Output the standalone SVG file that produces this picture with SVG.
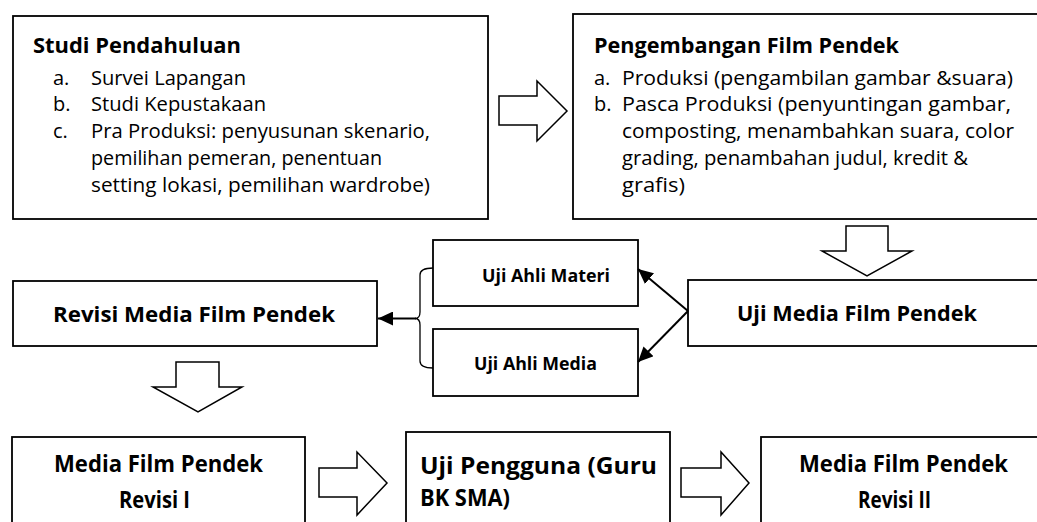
<svg xmlns="http://www.w3.org/2000/svg" width="1037" height="522" viewBox="0 0 1037 522">
  <style>
    .box { fill: #ffffff; stroke: #000000; stroke-width: 1.8; }
    .blk { fill: #ffffff; stroke: #000000; stroke-width: 1.5; stroke-linejoin: miter; }
    .t { font-family: "Open Sans", "Noto Sans", "Liberation Sans", sans-serif; fill: #000000; }
    .b { font-weight: bold; }
    .r { font-size: 20px; font-weight: normal; }
    .h { font-size: 21px; }
    .s { font-size: 17.5px; }
    .big { font-size: 23px; }
    .con { fill: none; stroke: #000000; stroke-width: 2; }
    .brace { fill: none; stroke: #000000; stroke-width: 1.3; }
  </style>
  <defs>
    <marker id="ah" markerUnits="userSpaceOnUse" markerWidth="16" markerHeight="14" refX="15" refY="7" orient="auto">
      <path d="M0,0 L15,7 L0,14 z" fill="#000000"/>
    </marker>
  </defs>
  <rect width="1037" height="522" fill="#ffffff"/>

  <g id="studi-pendahuluan">
    <rect class="box" x="13" y="16" width="475" height="203"/>
    <text class="t b h" x="33" y="53" textLength="208" lengthAdjust="spacingAndGlyphs">Studi Pendahuluan</text>
    <text class="t r" x="53" y="84.5">a.</text>
    <text class="t r" x="91" y="84.5" textLength="155" lengthAdjust="spacingAndGlyphs">Survei Lapangan</text>
    <text class="t r" x="53" y="111">b.</text>
    <text class="t r" x="91" y="111" textLength="175" lengthAdjust="spacingAndGlyphs">Studi Kepustakaan</text>
    <text class="t r" x="53" y="138">c.</text>
    <text class="t r" x="91" y="138" textLength="339" lengthAdjust="spacingAndGlyphs">Pra Produksi: penyusunan skenario,</text>
    <text class="t r" x="91" y="165" textLength="291" lengthAdjust="spacingAndGlyphs">pemilihan pemeran, penentuan</text>
    <text class="t r" x="91" y="192" textLength="339" lengthAdjust="spacingAndGlyphs">setting lokasi, pemilihan wardrobe)</text>
  </g>

  <g id="pengembangan-film-pendek">
    <rect class="box" x="573" y="14" width="470" height="205"/>
    <text class="t b h" x="594" y="53" textLength="305" lengthAdjust="spacingAndGlyphs">Pengembangan Film Pendek</text>
    <text class="t r" x="594" y="84.5">a.</text>
    <text class="t r" x="622" y="84.5" textLength="391" lengthAdjust="spacingAndGlyphs">Produksi (pengambilan gambar &amp;suara)</text>
    <text class="t r" x="594" y="111">b.</text>
    <text class="t r" x="622" y="111" textLength="389" lengthAdjust="spacingAndGlyphs">Pasca Produksi (penyuntingan gambar,</text>
    <text class="t r" x="622" y="138" textLength="392" lengthAdjust="spacingAndGlyphs">composting, menambahkan suara, color</text>
    <text class="t r" x="622" y="165" textLength="346" lengthAdjust="spacingAndGlyphs">grading, penambahan judul, kredit &amp;</text>
    <text class="t r" x="622" y="192" textLength="63" lengthAdjust="spacingAndGlyphs">grafis)</text>
  </g>

  <g id="uji-media-film-pendek">
    <rect class="box" x="688" y="280" width="355" height="66"/>
    <text class="t b h" x="737" y="321" textLength="240" lengthAdjust="spacingAndGlyphs">Uji Media Film Pendek</text>
  </g>

  <g id="uji-ahli-materi">
    <rect class="box" x="433" y="240" width="205" height="66"/>
    <text class="t b s" x="482" y="282" textLength="128" lengthAdjust="spacingAndGlyphs">Uji Ahli Materi</text>
  </g>

  <g id="uji-ahli-media">
    <rect class="box" x="433" y="329" width="205" height="67"/>
    <text class="t b s" x="474" y="369.5" textLength="123" lengthAdjust="spacingAndGlyphs">Uji Ahli Media</text>
  </g>

  <g id="revisi-media-film-pendek">
    <rect class="box" x="13" y="281" width="364" height="65"/>
    <text class="t b h" x="53" y="322" textLength="282" lengthAdjust="spacingAndGlyphs">Revisi Media Film Pendek</text>
  </g>

  <g id="media-film-pendek-revisi-1">
    <rect class="box" x="12" y="437" width="293" height="95"/>
    <text class="t b big" x="54" y="472" textLength="209" lengthAdjust="spacingAndGlyphs">Media Film Pendek</text>
    <text class="t b big" x="119" y="508" textLength="71" lengthAdjust="spacingAndGlyphs">Revisi I</text>
  </g>

  <g id="uji-pengguna">
    <rect class="box" x="406" y="432" width="264" height="100"/>
    <text class="t b big" x="420" y="474" textLength="237" lengthAdjust="spacingAndGlyphs">Uji Pengguna (Guru</text>
    <text class="t b big" x="420" y="506" textLength="90" lengthAdjust="spacingAndGlyphs">BK SMA)</text>
  </g>

  <g id="media-film-pendek-revisi-2">
    <rect class="box" x="761" y="437" width="290" height="95"/>
    <text class="t b big" x="799" y="472" textLength="209" lengthAdjust="spacingAndGlyphs">Media Film Pendek</text>
    <text class="t b big" x="858" y="508" textLength="73" lengthAdjust="spacingAndGlyphs">Revisi II</text>
  </g>

  <g id="connectors">
    <polygon class="blk" points="499,96 537,96 537,81 567,111 537,141 537,125 499,125"/>
    <polygon class="blk" points="846,226 888,226 888,251 912,251 867,276 822,251 846,251"/>
    <polygon class="blk" points="176,362 219,362 219,387 242,387 198,412 153,387 176,387"/>
    <polygon class="blk" points="319,468 357,468 357,452 387,483 357,515 357,497 319,497"/>
    <polygon class="blk" points="681,468 721,468 721,452 749,483 721,515 721,497 681,497"/>
    <line class="con" x1="688" y1="311" x2="638" y2="269" marker-end="url(#ah)"/>
    <line class="con" x1="688" y1="311" x2="638" y2="362" marker-end="url(#ah)"/>
    <path class="brace" d="M433,268 C425,268 420,270 420,275 L420,312 C420,316 418,318.5 415,318.5 C418,318.5 420,321 420,325 L420,361 C420,366 425,368 433,368"/>
    <line class="con" x1="416" y1="318.5" x2="378" y2="318.5" marker-end="url(#ah)"/>
  </g>
</svg>
